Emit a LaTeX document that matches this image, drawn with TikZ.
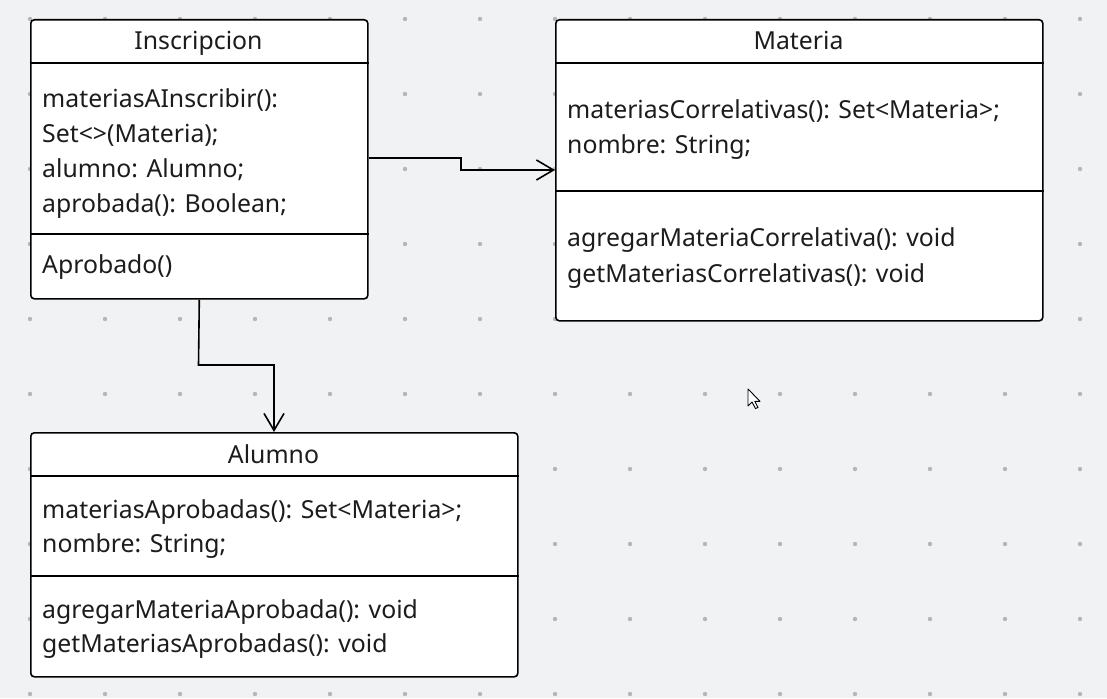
\documentclass[tikz,border=0pt]{standalone}
\usepackage{fontspec}
\setmainfont{Noto Sans}
\usepackage{xcolor}
\usepackage{tikz}
\usetikzlibrary{arrows.meta}

\definecolor{canvas}{HTML}{F1F2F4}
\definecolor{griddot}{HTML}{B4B6BA}
\definecolor{ink}{HTML}{1C1C1C}

\tikzset{
	umlbox/.style={draw=black, fill=white, line width=1.6pt, rounded corners=3.5pt, inner sep=0pt, anchor=north west},
	member/.style={anchor=base west, inner sep=0pt, text=ink, font=\fontsize{24.8}{28}\selectfont},
	title/.style={anchor=base, inner sep=0pt, text=ink, font=\fontsize{24.8}{28}\selectfont},
	sep/.style={line width=1.4pt},
	conn/.style={line width=1.6pt, -{Straight Barb[length=17pt,width=20pt]}},
}

\begin{document}
\begin{tikzpicture}[x=1pt,y=-1pt]
	\path[use as bounding box, fill=canvas] (0,0) rectangle (1107,698);
	\foreach \i in {0,...,14}
		\foreach \j in {0,...,9}
			\fill[griddot] (30+75*\i,19+75*\j) circle (2.2pt);

	% Inscripcion
	\node[umlbox, minimum width=337pt, minimum height=279pt] (insc) at (30,19) {};
	\draw[sep] (insc.west |- 0,63) -- (insc.east |- 0,63);
	\draw[sep] (insc.west |- 0,234) -- (insc.east |- 0,234);
	\node[title] (inscT) at (198.5,50) {Inscripcion};
	\node[member] (inscA1) at (42,107) {materiasAInscribir():};
	\node[member] (inscA2) at (42,142) {Set<>(Materia);};
	\node[member] (inscA3) at (42,177) {alumno: Alumno;};
	\node[member] (inscA4) at (42,212) {aprobada(): Boolean;};
	\node[member] (inscM1) at (42,273) {Aprobado()};

	% Materia
	\node[umlbox, minimum width=487pt, minimum height=301pt] (mat) at (555,19) {};
	\draw[sep] (mat.west |- 0,63) -- (mat.east |- 0,63);
	\draw[sep] (mat.west |- 0,191) -- (mat.east |- 0,191);
	\node[title] (matT) at (798.5,50) {Materia};
	\node[member] (matA1) at (567,118) {materiasCorrelativas(): Set<Materia>;};
	\node[member] (matA2) at (567,153) {nombre: String;};
	\node[member] (matM1) at (567,246) {agregarMateriaCorrelativa(): void};
	\node[member] (matM2) at (567,282) {getMateriasCorrelativas(): void};

	% Alumno
	\node[umlbox, minimum width=487pt, minimum height=244pt] (alu) at (30,432) {};
	\draw[sep] (alu.west |- 0,476) -- (alu.east |- 0,476);
	\draw[sep] (alu.west |- 0,576) -- (alu.east |- 0,576);
	\node[title] (aluT) at (273.5,463) {Alumno};
	\node[member] (aluA1) at (42,518) {materiasAprobadas(): Set<Materia>;};
	\node[member] (aluA2) at (42,552) {nombre: String;};
	\node[member] (aluM1) at (42,618) {agregarMateriaAprobada(): void};
	\node[member] (aluM2) at (42,652) {getMateriasAprobadas(): void};

	% asociaciones
	\draw[conn] (insc.east |- 0,158) -- (461,158) |- (mat.west |- 0,170);
	\draw[conn] (insc.south) -- (198.5,365) -| (alu.north -| 274,0);

	% puntero
	\draw[fill=white, line width=0.9pt, line join=round] (748,389) -- (748,406) -- (752,402) -- (755.5,408.5) -- (758,407.5) -- (754.8,401.3) -- (760,401.3) -- cycle;
\end{tikzpicture}
\end{document}
